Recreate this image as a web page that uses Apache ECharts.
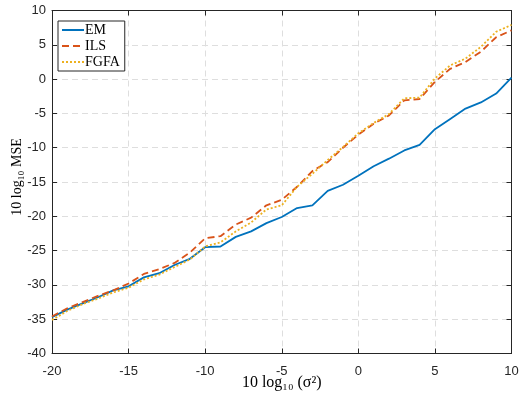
<!DOCTYPE html>
<html>
<head>
<meta charset="utf-8">
<script src="https://cdn.jsdelivr.net/npm/echarts@6/dist/echarts.min.js"></script>
<style>
  html, body { margin: 0; padding: 0; background: #fff; overflow: hidden; }
  #chart { width: 519px; height: 394px; }
</style>
</head>
<body>
<div id="chart"></div>
<script>
// Noise level (dB) and MSE (dB) of each estimator
const noiseDb = [-20, -19, -18, -17, -16, -15, -14, -13, -12, -11, -10, -9, -8, -7, -6, -5,
                 -4, -3, -2, -1, 0, 1, 2, 3, 4, 5, 6, 7, 8, 9, 10];
const emMse = [-34.7, -33.6, -32.7, -31.8, -30.8, -30.2, -28.9, -28.3, -27.1, -26.2, -24.5,
               -24.4, -23.0, -22.2, -21.0, -20.1, -18.8, -18.4, -16.3, -15.4, -14.1, -12.7,
               -11.6, -10.4, -9.6, -7.3, -5.8, -4.3, -3.4, -2.1, 0.2];
const ilsMse = [-34.6, -33.4, -32.5, -31.6, -30.8, -29.8, -28.4, -27.7, -26.8, -25.3, -23.2,
                -22.9, -21.2, -20.2, -18.4, -17.6, -15.7, -13.4, -12.1, -10.0, -8.1, -6.5,
                -5.3, -3.1, -2.9, -0.4, 1.5, 2.5, 4.0, 6.1, 7.1];
const fgfaMse = [-35.1, -33.8, -32.8, -32.0, -31.1, -30.4, -29.2, -28.5, -27.4, -26.3, -24.4,
                 -23.8, -22.2, -20.9, -19.0, -18.4, -15.7, -13.8, -11.8, -9.9, -7.9, -6.4,
                 -5.1, -2.8, -2.7, 0.1, 2.0, 3.0, 4.7, 6.9, 7.9];
const seriesNames = ['EM', 'ILS', 'FGFA'];

const pairs = ys => noiseDb.map((x, i) => [x, ys[i]]);

const axisColor = '#262626';
const gridColor = '#dedede';
const sansFont = 'Liberation Sans, Arial, sans-serif';
const serifFont = 'Liberation Serif, DejaVu Serif, Times New Roman, serif';

const baseX = {
  type: 'value', min: -20, max: 10, interval: 5,
  axisLine: { show: true, onZero: false, lineStyle: { color: axisColor, width: 1 } },
  axisTick: { show: true, inside: true, length: 5, lineStyle: { color: axisColor } },
  splitLine: { show: false }
};
const baseY = {
  type: 'value', min: -40, max: 10, interval: 5,
  axisLine: { show: true, onZero: false, lineStyle: { color: axisColor, width: 1 } },
  axisTick: { show: true, inside: true, length: 5, lineStyle: { color: axisColor } },
  splitLine: { show: false }
};

const chart = echarts.init(document.getElementById('chart'), null, { renderer: 'canvas' });
chart.setOption({
  animation: false,
  backgroundColor: '#fff',
  grid: { left: 52, right: 7.5, top: 10.5, bottom: 40.5, containLabel: false, outerBoundsMode: 'none' },
  legend: {
    orient: 'vertical', left: 58, top: 21,
    data: seriesNames,
    itemWidth: 22, itemHeight: 10, itemGap: 0,
    padding: [1, 5, 1, 3],
    borderColor: axisColor, borderWidth: 1, backgroundColor: '#fff',
    itemStyle: { opacity: 0 },
    textStyle: { fontFamily: serifFont, fontSize: 14, lineHeight: 16, color: '#000', padding: [0, 0, 0, -4] }
  },
  xAxis: [
    Object.assign({}, baseX, {
      position: 'bottom',
      splitLine: { show: true, lineStyle: { color: gridColor, type: [6, 4], width: 1 } },
      axisLabel: { color: axisColor, fontFamily: sansFont, fontSize: 13, margin: 11 },
      name: '10 log₁₀ (σ²)', nameLocation: 'middle', nameGap: 21, nameMoveOverlap: false,
      nameTextStyle: { fontFamily: serifFont, fontSize: 16, color: '#000' }
    }),
    Object.assign({}, baseX, { position: 'top', axisLabel: { show: false } })
  ],
  yAxis: [
    Object.assign({}, baseY, {
      position: 'left',
      splitLine: { show: true, lineStyle: { color: gridColor, type: [6, 4], width: 1 } },
      axisLabel: { color: axisColor, fontFamily: sansFont, fontSize: 13, margin: 6 },
      name: '10 log₁₀ MSE', nameLocation: 'middle', nameGap: 28, nameMoveOverlap: false,
      nameTextStyle: { fontFamily: serifFont, fontSize: 14, color: '#000', padding: [0, 0, 0, 10] }
    }),
    Object.assign({}, baseY, { position: 'right', axisLabel: { show: false } })
  ],
  series: [
    {
      name: seriesNames[0], type: 'line', data: pairs(emMse),
      showSymbol: false, symbol: 'none', clip: true,
      lineStyle: { color: '#0072BD', width: 1.8, type: 'solid' },
      itemStyle: { color: '#0072BD' }
    },
    {
      name: seriesNames[1], type: 'line', data: pairs(ilsMse),
      showSymbol: false, symbol: 'none', clip: true,
      lineStyle: { color: '#D95319', width: 1.8, type: [7, 4] },
      itemStyle: { color: '#D95319' }
    },
    {
      name: seriesNames[2], type: 'line', data: pairs(fgfaMse),
      showSymbol: false, symbol: 'none', clip: true,
      lineStyle: { color: '#EDB120', width: 1.8, type: [2, 2] },
      itemStyle: { color: '#EDB120' }
    }
  ]
});
</script>
</body>
</html>
